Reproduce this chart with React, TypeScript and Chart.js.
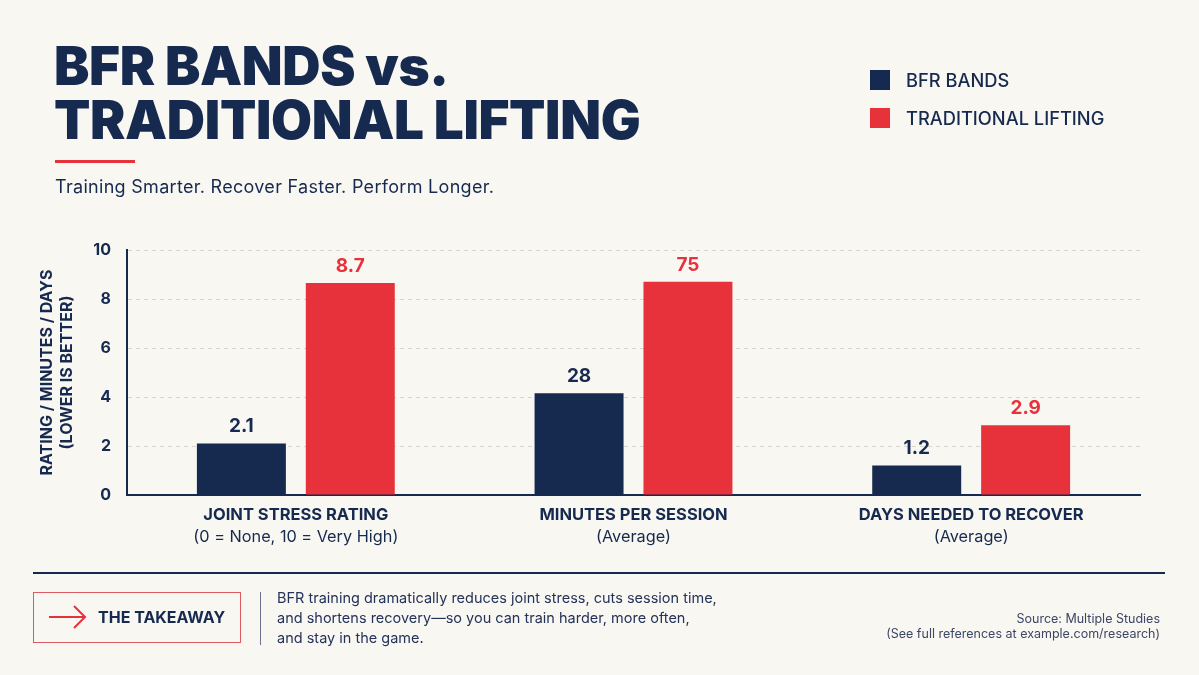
import React, { useEffect, useRef } from 'react';
import { Chart, registerables } from 'chart.js';

Chart.register(...registerables);

const categories = ['JOINT STRESS RATING', 'MINUTES PER SESSION', 'DAYS NEEDED TO RECOVER'];
const categoryNotes = ['(0 = None, 10 = Very High)', '(Average)', '(Average)'];
const bfrValues = [2.1, 4.15, 1.2];
const traditionalValues = [8.65, 8.7, 2.85];
const bfrLabels = ['2.1', '28', '1.2'];
const traditionalLabels = ['8.7', '75', '2.9'];
const seriesNames = ['BFR BANDS', 'TRADITIONAL LIFTING'];
const yAxisTitle = ['RATING / MINUTES / DAYS', '(LOWER IS BETTER)'];

const NAVY = '#16294f';
const RED = '#e7313b';
const BG = '#f9f7f2';
const GRID = '#d9d5ce';
const FONT = 'Inter, "Noto Sans", sans-serif';

const labelPlugin = {
  id: 'valueAndCategoryLabels',
  afterDatasetsDraw(chart: any) {
    const ctx = chart.ctx;
    ctx.save();
    ctx.textAlign = 'center';
    ctx.textBaseline = 'middle';
    chart.data.datasets.forEach((ds: any, di: number) => {
      const meta = chart.getDatasetMeta(di);
      const labels = di === 0 ? bfrLabels : traditionalLabels;
      meta.data.forEach((bar: any, i: number) => {
        ctx.font = `700 19px ${FONT}`;
        ctx.fillStyle = ds.backgroundColor;
        ctx.fillText(labels[i], bar.x, bar.y - 17);
      });
    });
    const xs = chart.scales.x;
    const bottom = chart.chartArea.bottom;
    categories.forEach((c, i) => {
      const x = xs.getPixelForValue(i);
      ctx.fillStyle = NAVY;
      ctx.font = `700 16.5px ${FONT}`;
      ctx.fillText(c, x, bottom + 20);
      ctx.font = `400 16.3px ${FONT}`;
      ctx.fillText(categoryNotes[i], x, bottom + 42);
    });
    ctx.restore();
  },
};

export default function App() {
  const canvasRef = useRef<HTMLCanvasElement | null>(null);

  useEffect(() => {
    const canvas = canvasRef.current;
    if (!canvas) return;
    const chart = new Chart(canvas, {
      type: 'bar',
      data: {
        labels: categories,
        datasets: [
          {
            label: seriesNames[0],
            data: bfrValues,
            backgroundColor: NAVY,
            categoryPercentage: 0.645,
            barPercentage: 0.817,
          },
          {
            label: seriesNames[1],
            data: traditionalValues,
            backgroundColor: RED,
            categoryPercentage: 0.645,
            barPercentage: 0.817,
          },
        ],
      },
      options: {
        responsive: false,
        animation: false,
        devicePixelRatio: 1,
        layout: { padding: { left: 29, right: 59, top: 250, bottom: 180 } },
        plugins: {
          legend: { display: false },
          tooltip: { enabled: false },
          title: { display: false },
        },
        scales: {
          x: {
            type: 'category',
            grid: { display: false, drawTicks: false },
            ticks: { display: false },
            border: { display: true, color: NAVY, width: 2 },
            afterFit: (s: any) => {
              s.height = 0;
            },
          },
          y: {
            min: 0,
            max: 10,
            ticks: {
              stepSize: 2,
              color: NAVY,
              padding: 16,
              font: { family: FONT, size: 16, weight: '700' },
            },
            grid: {
              drawTicks: false,
              color: (c: any) => (c.tick && c.tick.value === 0 ? 'rgba(0,0,0,0)' : GRID),
              lineWidth: 1,
            },
            border: { display: true, color: NAVY, width: 2, dash: [4, 4] },
            title: {
              display: true,
              text: yAxisTitle,
              color: NAVY,
              font: { family: FONT, size: 16, weight: '700', lineHeight: 1.25 },
              padding: { top: 8, bottom: 0 },
            },
            afterFit: (s: any) => {
              s.width = 98;
            },
          },
        },
      },
      plugins: [labelPlugin],
    } as any);
    return () => chart.destroy();
  }, []);

  const abs = (extra: React.CSSProperties): React.CSSProperties => ({ position: 'absolute', ...extra });

  return (
    <div
      style={{
        position: 'absolute',
        left: 0,
        top: 0,
        width: 1199,
        height: 675,
        background: BG,
        overflow: 'hidden',
        fontFamily: FONT,
        color: NAVY,
      }}
    >
      <canvas ref={canvasRef} width={1199} height={675} style={abs({ left: 0, top: 0, width: 1199, height: 675 })} />

      <div
        style={abs({
          left: 54,
          top: 39,
          fontSize: 53,
          fontWeight: 900,
          lineHeight: '54px',
          letterSpacing: '-0.35px',
          whiteSpace: 'nowrap',
        })}
      >
        BFR BANDS vs.
        <br />
        TRADITIONAL LIFTING
      </div>
      <div style={abs({ left: 55, top: 159.5, width: 80, height: 3, background: RED })} />
      <div style={abs({ left: 55, top: 176, fontSize: 18, letterSpacing: '0.3px', whiteSpace: 'nowrap' })}>
        Training Smarter. Recover Faster. Perform Longer.
      </div>

      <div style={abs({ left: 870, top: 70, width: 20, height: 20, background: NAVY })} />
      <div style={abs({ left: 906, top: 69, fontSize: 18.3, fontWeight: 500, lineHeight: '22px', whiteSpace: 'nowrap' })}>
        {seriesNames[0]}
      </div>
      <div style={abs({ left: 870, top: 108, width: 20, height: 20, background: RED })} />
      <div style={abs({ left: 906, top: 107, fontSize: 18.3, fontWeight: 500, lineHeight: '22px', whiteSpace: 'nowrap' })}>
        {seriesNames[1]}
      </div>

      <div style={abs({ left: 33, top: 571.5, width: 1132, height: 2, background: NAVY })} />
      <div
        style={abs({
          left: 33,
          top: 592,
          width: 208,
          height: 51,
          border: '1.5px solid #dc5a60',
          boxSizing: 'border-box',
        })}
      />
      <svg width={40} height={24} style={abs({ left: 48, top: 605 })}>
        <line x1={1} y1={12} x2={37} y2={12} stroke={RED} strokeWidth={2} />
        <polyline points="26,1 37,12 26,23" fill="none" stroke={RED} strokeWidth={2} />
      </svg>
      <div style={abs({ left: 98, top: 607, fontSize: 16, fontWeight: 700, lineHeight: '20px', whiteSpace: 'nowrap' })}>
        THE TAKEAWAY
      </div>
      <div style={abs({ left: 259.5, top: 592, width: 1.5, height: 53, background: '#6b7390' })} />
      <div style={abs({ left: 277, top: 588, fontSize: 14.5, lineHeight: '20px', color: '#24335a', whiteSpace: 'nowrap' })}>
        BFR training dramatically reduces joint stress, cuts session time,
        <br />
        and shortens recovery—so you can train harder, more often,
        <br />
        and stay in the game.
      </div>
      <div
        style={abs({
          right: 39,
          top: 611,
          fontSize: 12.5,
          lineHeight: '15px',
          color: '#3c4665',
          textAlign: 'right',
          whiteSpace: 'nowrap',
        })}
      >
        Source: Multiple Studies
        <br />
        (See full references at example.com/research)
      </div>
    </div>
  );
}
